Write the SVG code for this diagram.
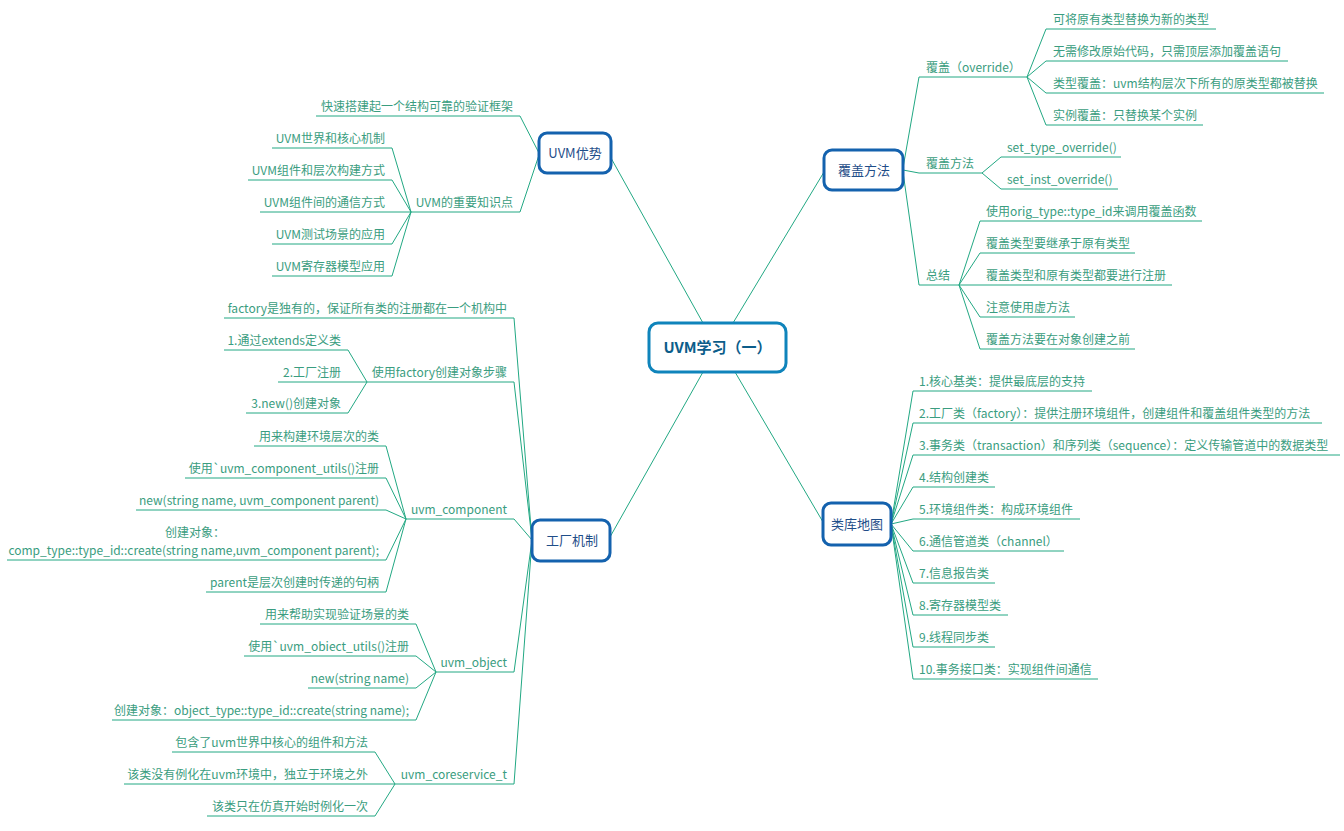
<svg xmlns="http://www.w3.org/2000/svg" width="1344" height="831" viewBox="0 0 1344 831">
<style>
.t{font-family:"Noto Sans CJK SC","Noto Sans",sans-serif;font-size:12px;fill:#3a9d80}
.r{text-anchor:end}
.m{text-anchor:middle}
.u{stroke:#22a883;stroke-width:1;fill:none}
.c{stroke:#22a883;stroke-width:1;fill:none}
.node rect{fill:#ffffff;stroke:#1462ae;stroke-width:3}
.node text{font-family:"Noto Sans CJK SC","Noto Sans",sans-serif;font-size:13px;fill:#1f4e89;text-anchor:middle}
#root rect{fill:#ffffff;stroke:#0f84bb;stroke-width:3}
#root text{font-family:"Noto Sans CJK SC","Noto Sans",sans-serif;font-size:15px;font-weight:bold;fill:#0c5d8a;text-anchor:middle}
</style>
<rect width="1344" height="831" fill="#ffffff"/>
<g id="connectors">
<!-- root to main -->
<path class="c" d="M703 323 L611 158"/>
<path class="c" d="M733 323 L824 172"/>
<path class="c" d="M703 372 L610 537"/>
<path class="c" d="M735 372 L823 522"/>
<!-- UVM优势 -->
<path class="c" d="M539 153 L520 116"/>
<path class="c" d="M539 155 L520 212"/>
<path class="c" d="M411 212 L392 148 M411 212 L392 180 M411 212 L392 212 M411 212 L392 244 M411 212 L392 276"/>
<!-- 工厂机制 -->
<path class="c" d="M532 540 L514 318 M532 540 L514 382 M532 540 L514 519 M532 540 L514 672 M532 540 L514 784"/>
<path class="c" d="M367 382 L348 350 M367 382 L348 382 M367 382 L348 413"/>
<path class="c" d="M406 519 L386 446 M406 519 L386 478 M406 519 L386 510 M406 519 L386 560 M406 519 L386 592"/>
<path class="c" d="M436 672 L416 624 M436 672 L416 656 M436 672 L416 688 M436 672 L416 720"/>
<path class="c" d="M395 784 L375 752 M395 784 L375 784 M395 784 L375 816"/>
<!-- 覆盖方法 -->
<path class="c" d="M903 168 L919 77 M903 170 L919 173 M903 172 L919 285"/>
<path class="c" d="M1027 77 L1046 29 M1027 77 L1046 61 M1027 77 L1046 93 M1027 77 L1046 125"/>
<path class="c" d="M982 173 L1001 157 M982 173 L1001 189"/>
<path class="c" d="M959 285 L980 221 M959 285 L980 253 M959 285 L980 285 M959 285 L980 317 M959 285 L980 349"/>
<!-- 类库地图 -->
<path class="c" d="M891 524 L913 391 M891 524 L913 423 M891 524 L913 455 M891 524 L913 487 M891 524 L913 519 M891 524 L913 551 M891 524 L913 583 M891 524 L913 615 M891 524 L913 647 M891 524 L913 679"/>
</g>
<g id="root">
<rect x="649" y="323" width="137" height="49" rx="9"/>
<text x="717.5" y="353">UVM学习（一）</text>
</g>
<g id="n-advantage" class="node">
<rect x="539" y="133" width="72" height="40" rx="8"/>
<text x="575" y="158">UVM优势</text>
</g>
<g id="n-factory" class="node">
<rect x="532" y="520" width="78" height="41" rx="8"/>
<text x="572" y="545">工厂机制</text>
</g>
<g id="n-override" class="node">
<rect x="824" y="150" width="79" height="40" rx="8"/>
<text x="864" y="175">覆盖方法</text>
</g>
<g id="n-library" class="node">
<rect x="823" y="503" width="68" height="42" rx="8"/>
<text x="857" y="529">类库地图</text>
</g>
<g id="advantage-items">
<path class="u" d="M316 116H520M411 212H520M272 148H392M248 180H392M260 212H392M272 244H392M272 276H392"/>
<text class="t r" x="513" y="111">快速搭建起一个结构可靠的验证框架</text>
<text class="t r" x="513" y="207">UVM的重要知识点</text>
<text class="t r" x="385" y="143">UVM世界和核心机制</text>
<text class="t r" x="385" y="175">UVM组件和层次构建方式</text>
<text class="t r" x="385" y="207">UVM组件间的通信方式</text>
<text class="t r" x="385" y="239">UVM测试场景的应用</text>
<text class="t r" x="385" y="271">UVM寄存器模型应用</text>
</g>
<g id="factory-items">
<path class="u" d="M224 318H514M367 382H514M224 350H348M278 382H348M246 413H348"/>
<text class="t r" x="507" y="313">factory是独有的，保证所有类的注册都在一个机构中</text>
<text class="t r" x="507" y="377">使用factory创建对象步骤</text>
<text class="t r" x="341" y="345">1.通过extends定义类</text>
<text class="t r" x="341" y="377">2.工厂注册</text>
<text class="t r" x="341" y="408">3.new()创建对象</text>
<path class="u" d="M406 519H514M254 446H386M185 478H386M136 510H386M7 560H386M206 592H386"/>
<text class="t r" x="507" y="514">uvm_component</text>
<text class="t r" x="379" y="441">用来构建环境层次的类</text>
<text class="t r" x="379" y="473">使用`uvm_component_utils()注册</text>
<text class="t r" x="379" y="505">new(string name, uvm_component parent)</text>
<text class="t m" x="195" y="537">创建对象：</text>
<text class="t r" x="379" y="555">comp_type::type_id::create(string name,uvm_component parent);</text>
<text class="t r" x="379" y="587">parent是层次创建时传递的句柄</text>
<path class="u" d="M436 672H514M260 624H416M244 656H416M308 688H416M112 720H416"/>
<text class="t r" x="507" y="667">uvm_object</text>
<text class="t r" x="409" y="619">用来帮助实现验证场景的类</text>
<text class="t r" x="409" y="651">使用`uvm_obiect_utils()注册</text>
<text class="t r" x="409" y="683">new(string name)</text>
<text class="t r" x="409" y="715">创建对象：object_type::type_id::create(string name);</text>
<path class="u" d="M395 784H514M172 752H375M124 784H375M207 816H375"/>
<text class="t r" x="507" y="779">uvm_coreservice_t</text>
<text class="t r" x="368" y="747">包含了uvm世界中核心的组件和方法</text>
<text class="t r" x="368" y="779">该类没有例化在uvm环境中，独立于环境之外</text>
<text class="t r" x="368" y="811">该类只在仿真开始时例化一次</text>
</g>
<g id="override-items">
<path class="u" d="M919 77H1027M1046 29H1216M1046 61H1288M1046 93H1324M1046 125H1203"/>
<text class="t" x="926" y="72">覆盖（override）</text>
<text class="t" x="1053" y="24">可将原有类型替换为新的类型</text>
<text class="t" x="1053" y="56">无需修改原始代码，只需顶层添加覆盖语句</text>
<text class="t" x="1053" y="88">类型覆盖：uvm结构层次下所有的原类型都被替换</text>
<text class="t" x="1053" y="120">实例覆盖：只替换某个实例</text>
<path class="u" d="M919 173H982M1001 157H1121M1001 189H1118"/>
<text class="t" x="926" y="168">覆盖方法</text>
<text class="t" x="1007" y="152">set_type_override()</text>
<text class="t" x="1007" y="184">set_inst_override()</text>
<path class="u" d="M919 285H959M980 221H1202M980 253H1135M980 285H1172M980 317H1075M980 349H1135"/>
<text class="t" x="926" y="280">总结</text>
<text class="t" x="986" y="216">使用orig_type::type_id来调用覆盖函数</text>
<text class="t" x="986" y="248">覆盖类型要继承于原有类型</text>
<text class="t" x="986" y="280">覆盖类型和原有类型都要进行注册</text>
<text class="t" x="986" y="312">注意使用虚方法</text>
<text class="t" x="986" y="344">覆盖方法要在对象创建之前</text>
</g>
<g id="library-items">
<path class="u" d="M913 391H1092M913 423H1322M913 455H1340M913 487H995M913 519H1080M913 551H1064M913 583H995M913 615H1008M913 647H995M913 679H1098"/>
<text class="t" x="919" y="386">1.核心基类：提供最底层的支持</text>
<text class="t" x="919" y="418">2.工厂类（factory）：提供注册环境组件，创建组件和覆盖组件类型的方法</text>
<text class="t" x="919" y="450">3.事务类（transaction）和序列类（sequence）：定义传输管道中的数据类型</text>
<text class="t" x="919" y="482">4.结构创建类</text>
<text class="t" x="919" y="514">5.环境组件类：构成环境组件</text>
<text class="t" x="919" y="546">6.通信管道类（channel）</text>
<text class="t" x="919" y="578">7.信息报告类</text>
<text class="t" x="919" y="610">8.寄存器模型类</text>
<text class="t" x="919" y="642">9.线程同步类</text>
<text class="t" x="919" y="674">10.事务接口类：实现组件间通信</text>
</g>
</svg>
